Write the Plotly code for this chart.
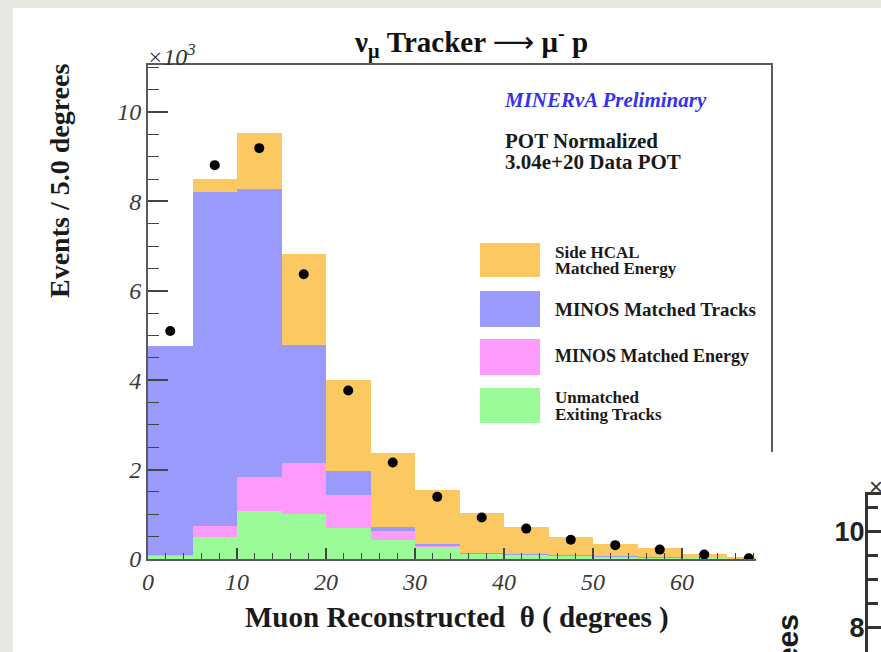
import plotly.graph_objects as go

# ---------------------------------------------------------------- data
# Muon angle bins (degrees): 0-5, 5-10, ..., 65-70
bin_lo = [0, 5, 10, 15, 20, 25, 30, 35, 40, 45, 50, 55, 60, 65]
bin_width = 5

# Stacked MC components (events per 5 degrees), bottom to top
unmatched_exiting = [70, 500, 1080, 1000, 700, 420, 270, 120, 100, 80, 60, 40, 30, 20]
minos_energy      = [30, 240, 760, 1140, 730, 210, 40, 10, 10, 5, 5, 0, 0, 0]
minos_tracks      = [4660, 7470, 6430, 2640, 540, 90, 20, 10, 5, 5, 5, 5, 0, 0]
side_hcal         = [0, 290, 1270, 2040, 2040, 1640, 1220, 880, 605, 410, 260, 195, 90, 20]

# Data points (POT normalized)
data_events = [5100, 8810, 9190, 6370, 3770, 2160, 1390, 930, 680, 430, 310, 210, 100, 15]

y_tickvals = [0, 2000, 4000, 6000, 8000, 10000]
y_ticktext = ["0", "2", "4", "6", "8", "10"]
x_tickvals = [0, 10, 20, 30, 40, 50, 60]

# ---------------------------------------------------------------- layout helpers
W, H = 881, 652
SERIF = "Liberation Serif, Times New Roman, serif"
SANS = "Liberation Sans, Arial, sans-serif"


def fx(px):
    return px / W


def fy(py):
    return 1 - py / H


centers = [lo + bin_width / 2 for lo in bin_lo]

colors = {
    "hcal": "#FCC862",
    "tracks": "#9A9AFC",
    "energy": "#FD9BFC",
    "exit": "#9BFB98",
}

fig = go.Figure()

for vals, col, name in [
    (unmatched_exiting, colors["exit"], "Unmatched Exiting Tracks"),
    (minos_energy, colors["energy"], "MINOS Matched Energy"),
    (minos_tracks, colors["tracks"], "MINOS Matched Tracks"),
    (side_hcal, colors["hcal"], "Side HCAL Matched Energy"),
]:
    fig.add_trace(go.Bar(
        x=centers, y=vals, width=bin_width, name=name,
        marker=dict(color=col, line=dict(width=0)),
        showlegend=False, xaxis="x", yaxis="y",
    ))

fig.add_trace(go.Scatter(
    x=centers, y=data_events, mode="markers", name="Data",
    marker=dict(color="black", size=10),
    showlegend=False, xaxis="x", yaxis="y",
))

# neighbouring canvas pasted over the lower-right corner
fig.add_trace(go.Scatter(x=[], y=[], xaxis="x2", yaxis="y2", showlegend=False))
fig.add_trace(go.Scatter(x=[], y=[], xaxis="x3", yaxis="y3", showlegend=False))

axis_line = "#5a5a5a"
tick_col = "#444444"

fig.update_layout(
    width=W, height=H,
    margin=dict(l=0, r=0, t=0, b=0),
    paper_bgcolor="#e9e8e2",
    plot_bgcolor="white",
    barmode="stack", bargap=0,
    xaxis=dict(
        domain=[fx(148), fx(771)], range=[0, 70], anchor="y",
        tickvals=x_tickvals, ticks="inside", ticklen=11, tickwidth=1.5,
        tickcolor=tick_col,
        minor=dict(ticks="inside", ticklen=6, dtick=2, tick0=0,
                   tickcolor=tick_col, tickwidth=1.2, showgrid=False),
        showline=True, linecolor=axis_line, linewidth=2, mirror=True,
        showgrid=False, zeroline=False, automargin=False,
        tickfont=dict(family=SERIF, size=24, style="italic", color="#3a3a3a"),
    ),
    yaxis=dict(
        domain=[fy(559), fy(65)], range=[0, 11050], anchor="x",
        tickvals=y_tickvals, ticktext=y_ticktext,
        ticks="inside", ticklen=20, tickwidth=1.5, tickcolor=tick_col,
        minor=dict(ticks="inside", ticklen=11, dtick=500, tick0=0,
                   tickcolor=tick_col, tickwidth=1.2, showgrid=False),
        showline=True, linecolor=axis_line, linewidth=2, mirror=True,
        showgrid=False, zeroline=False, automargin=False,
        tickfont=dict(family=SERIF, size=24, style="italic", color="#3a3a3a"),
    ),
    xaxis2=dict(domain=[fx(756), 1], anchor="y2", visible=False, range=[0, 1]),
    yaxis2=dict(domain=[0, fy(452)], anchor="x2", visible=False, range=[0, 1]),
    xaxis3=dict(domain=[fx(868), 1], anchor="y3", side="top", range=[0, 1],
                showline=True, linecolor="#333333", linewidth=3,
                showticklabels=False, ticks="", showgrid=False,
                zeroline=False, automargin=False),
    yaxis3=dict(domain=[0, fy(495)], anchor="x3", range=[7.5, 10.77],
                showline=True, linecolor="#333333", linewidth=3,
                dtick=2, tick0=0, ticks="inside", ticklen=16, tickwidth=2.5,
                tickcolor="#333333", ticklabelstandoff=-5,
                minor=dict(ticks="inside", ticklen=10, dtick=0.5,
                           tickcolor="#333333", tickwidth=2.5, showgrid=False),
                showgrid=False, zeroline=False, automargin=False,
                tickfont=dict(family=SANS, size=27, weight=700, color="#222222")),
)

# white canvas over the grey page
fig.add_shape(type="rect", xref="paper", yref="paper",
              x0=fx(13), x1=1, y0=0, y1=fy(8),
              fillcolor="white", line=dict(width=0), layer="below")

# legend swatches
legend_rows = [
    (colors["hcal"], 243, 277, ["Side HCAL", "Matched Energy"], [252, 268], 17),
    (colors["tracks"], 291, 327, ["MINOS Matched Tracks"], [310], 19),
    (colors["energy"], 339, 375, ["MINOS Matched Energy"], [356], 18),
    (colors["exit"], 388, 423, ["Unmatched", "Exiting Tracks"], [397, 414], 17),
]
for col, top, bot, lines, ys, fs in legend_rows:
    fig.add_shape(type="rect", xref="paper", yref="paper",
                  x0=fx(480), x1=fx(540), y0=fy(bot), y1=fy(top),
                  fillcolor=col, line=dict(width=0), layer="above")
    for txt, yy in zip(lines, ys):
        fig.add_annotation(x=fx(553), y=fy(yy), xref="paper", yref="paper",
                           text=txt, showarrow=False, xanchor="left",
                           yanchor="middle",
                           font=dict(family=SERIF, size=fs, weight=700,
                                     color="#1a1a1a"))

arrow = '<span style="font-family:DejaVu Sans;font-weight:normal">⟶</span>'
notes = [
    # title
    dict(x=fx(471), y=fy(43),
         text="ν<sub>μ</sub> Tracker " + arrow + " μ<sup>-</sup> p",
         xanchor="center", yanchor="middle",
         font=dict(family=SERIF, size=29, weight=700, color="#111111")),
    # axis multiplier
    dict(x=fx(145), y=fy(55), text="×10<sup>3</sup>", xanchor="left",
         yanchor="middle",
         font=dict(family=SERIF, size=24, style="italic", color="#333333")),
    # axis titles
    dict(x=fx(59), y=fy(181), text="Events / 5.0 degrees", textangle=-90,
         xanchor="center", yanchor="middle",
         font=dict(family=SERIF, size=28, weight=700, color="#1a1a1a")),
    dict(x=fx(457), y=fy(617), text="Muon Reconstructed  θ ( degrees )",
         xanchor="center", yanchor="middle",
         font=dict(family=SERIF, size=29, weight=700, color="#1a1a1a")),
    # labels
    dict(x=fx(605), y=fy(100), text="MINERνA Preliminary", xanchor="center",
         yanchor="middle",
         font=dict(family=SERIF, size=21, weight=700, style="italic",
                   color="#3333f0")),
    dict(x=fx(503), y=fy(141), text="POT Normalized", xanchor="left",
         yanchor="middle",
         font=dict(family=SERIF, size=21, weight=700, color="#1a1a1a")),
    dict(x=fx(503), y=fy(162), text="3.04e+20 Data POT", xanchor="left",
         yanchor="middle",
         font=dict(family=SERIF, size=21, weight=700, color="#1a1a1a")),
    # neighbouring canvas
    dict(x=fx(867), y=fy(485), text="×10<sup>3</sup>", xanchor="left",
         yanchor="middle",
         font=dict(family=SANS, size=24, color="#333333")),
    dict(x=fx(787), y=fy(612), text="Events / 5.0 degrees", textangle=-90,
         xanchor="center", yanchor="top",
         font=dict(family=SANS, size=30, weight=700, color="#1a1a1a")),
]
for n in notes:
    fig.add_annotation(xref="paper", yref="paper", showarrow=False, **n)

fig.write_html("out.html")
